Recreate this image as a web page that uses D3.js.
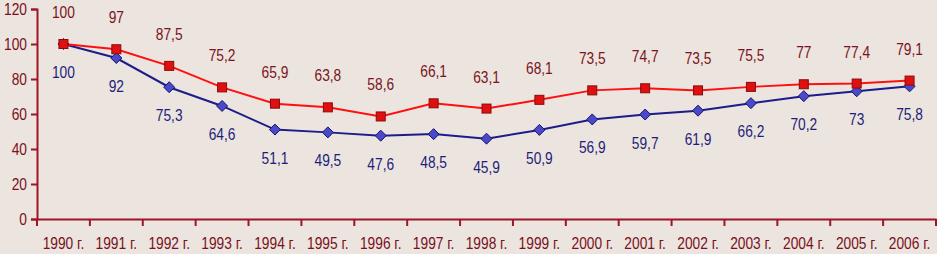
<!DOCTYPE html>
<html><head><meta charset="utf-8">
<script src="https://cdn.jsdelivr.net/npm/d3@7"></script>
<style>
body{margin:0;background:#ece4df;}
svg{display:block;font-family:"Liberation Sans",Arial,sans-serif;}
</style></head><body>
<svg id="c" width="937" height="254"></svg>
<script>
const years = ["1990 г.","1991 г.","1992 г.","1993 г.","1994 г.","1995 г.","1996 г.","1997 г.","1998 г.","1999 г.","2000 г.","2001 г.","2002 г.","2003 г.","2004 г.","2005 г.","2006 г."];
const redSeries = [100,97,87.5,75.2,65.9,63.8,58.6,66.1,63.1,68.1,73.5,74.7,73.5,75.5,77,77.4,79.1];
const blueSeries = [100,92,75.3,64.6,51.1,49.5,47.6,48.5,45.9,50.9,56.9,59.7,61.9,66.2,70.2,73,75.8];
const yTicks = [0,20,40,60,80,100,120];

(function(){
const svg = d3.select("#c");
const mL = 37, mR = 936, mT = 9, mB = 219;
const SX = 0.86;
const x = d3.scaleBand().domain(years).range([mL, mR]);
const y = d3.scaleLinear().domain([0,120]).range([mB, mT]);
const axisColor = "#a01428", textColor = "#7a1020";
const fmt = v => String(v).replace(".", ",");

// y axis
const ya = svg.append("g").attr("transform",`translate(${mL},0)`)
  .call(d3.axisLeft(y).tickValues(yTicks).tickSize(6).tickPadding(4));
ya.select(".domain").attr("stroke",axisColor).attr("stroke-width",2);
ya.selectAll(".tick line").attr("stroke",axisColor).attr("stroke-width",2);
ya.selectAll(".tick text").attr("fill",textColor).attr("font-size",16).attr("font-family","inherit")
  .attr("x",-10/SX).attr("transform",`scale(${SX},1)`);

// x axis
const xa = svg.append("g").attr("transform",`translate(0,${mB})`)
  .call(d3.axisBottom(x).tickSize(0).tickPadding(19));
xa.select(".domain").attr("stroke",axisColor).attr("stroke-width",2);
xa.selectAll(".tick text").attr("fill",textColor).attr("font-size",16).attr("font-family","inherit")
  .attr("transform",`scale(${SX},1)`);
const bounds = years.map(d => x(d)).concat([x(years[years.length-1]) + x.bandwidth()]);
svg.append("g").selectAll("line").data(bounds).join("line")
  .attr("x1",d=>d).attr("x2",d=>d).attr("y1",mB).attr("y2",mB+7)
  .attr("stroke",axisColor).attr("stroke-width",2);

const cx = i => x(years[i]) + x.bandwidth()/2;
const line = d3.line().x((d,i)=>cx(i)).y(d=>y(d));

svg.append("path").datum(blueSeries).attr("d",line).attr("fill","none")
  .attr("stroke","#1c1c8a").attr("stroke-width",2);
svg.append("path").datum(redSeries).attr("d",line).attr("fill","none")
  .attr("stroke","#ff1010").attr("stroke-width",2);

svg.append("g").selectAll("path").data(blueSeries).join("path")
  .attr("d",(d,i)=>{const X=cx(i),Y=y(d),r=5.5;return `M${X},${Y-r}L${X+r},${Y}L${X},${Y+r}L${X-r},${Y}Z`;})
  .attr("fill","#4a4ac8").attr("stroke","#14146e").attr("stroke-width",1);
svg.append("g").selectAll("rect").data(redSeries).join("rect")
  .attr("x",(d,i)=>cx(i)-4.5).attr("y",d=>y(d)-4.5).attr("width",9).attr("height",9)
  .attr("fill","#e01010").attr("stroke","#8a0a0a").attr("stroke-width",1);

svg.append("g").selectAll("text").data(redSeries).join("text")
  .attr("transform",(d,i)=>`translate(${cx(i)},${y(d)-26}) scale(${SX},1)`)
  .attr("text-anchor","middle").attr("font-size",16).attr("fill","#7a1420").text(fmt);
svg.append("g").selectAll("text").data(blueSeries).join("text")
  .attr("transform",(d,i)=>`translate(${cx(i)},${y(d)+34}) scale(${SX},1)`)
  .attr("text-anchor","middle").attr("font-size",16).attr("fill","#1e1e78").text(fmt);
})();
</script></body></html>
